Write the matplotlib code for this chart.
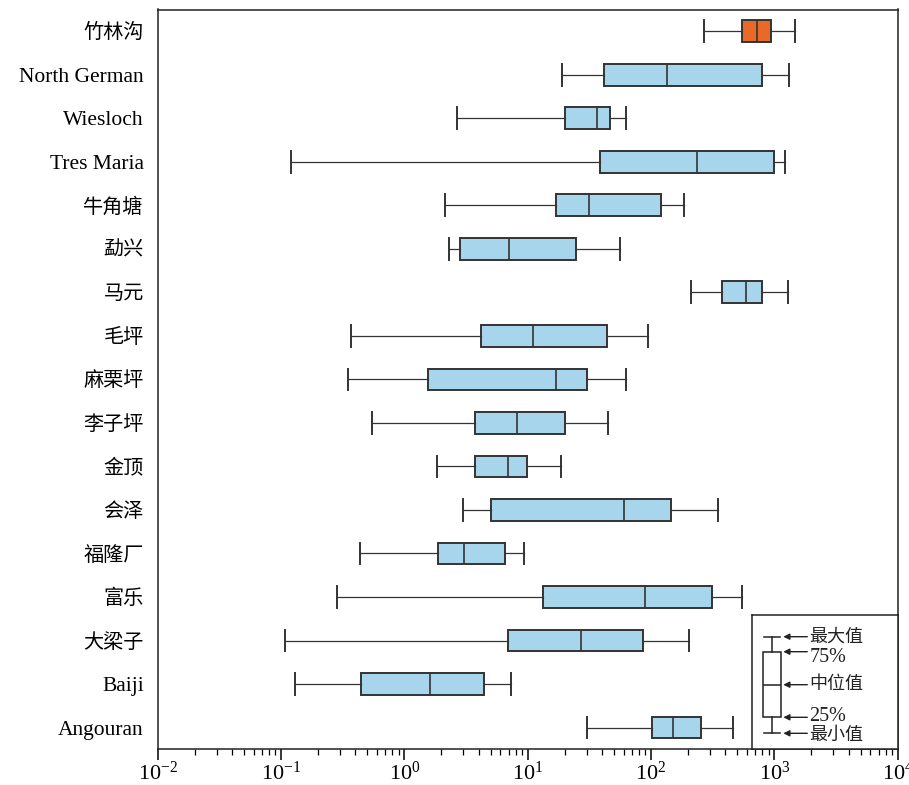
import numpy as np
import matplotlib
matplotlib.use('Agg')
import matplotlib.pyplot as plt

## FONTS: TIMES-LIKE SERIF FOR LATIN, CJK SANS AS FALLBACK
plt.rcParams['font.family'] = ['Liberation Serif', 'Noto Sans CJK SC']
plt.rcParams['mathtext.fontset'] = 'custom'
plt.rcParams['mathtext.rm'] = 'Liberation Serif'
plt.rcParams['mathtext.it'] = 'Liberation Serif:italic'
plt.rcParams['mathtext.bf'] = 'Liberation Serif:bold'

## DATA, TOP TO BOTTOM
names = ['竹林沟', 'North German', 'Wiesloch', 'Tres Maria', '牛角塘', '勐兴',
         '马元', '毛坪', '麻栗坪', '李子坪', '金顶', '会泽', '福隆厂', '富乐',
         '大梁子', 'Baiji', 'Angouran']
mins    = [270, 19.0, 2.69, 0.121, 2.15, 2.28, 211, 0.370, 0.352, 0.543,
           1.83, 3.00, 0.433, 0.283, 0.107, 0.131, 30.3]
q1s     = [548, 41.9, 20.0, 38.6, 16.9, 2.82, 376, 4.15, 1.55, 3.71,
           3.76, 5.00, 1.88, 13.3, 6.95, 0.441, 102]
medians = [721, 134, 36.5, 236, 31.6, 7.03, 594, 11.1, 16.9, 8.22,
           6.95, 60.0, 3.02, 89.9, 26.8, 1.61, 150]
q3s     = [937, 787, 46.8, 991, 120.5, 24.8, 796, 44.3, 30.1, 20.2,
           9.84, 146, 6.49, 313, 86.1, 4.44, 254]
maxs    = [1466, 1318, 63.1, 1230, 186, 56.4, 1294, 95.1, 63.1, 44.5,
           18.7, 351, 9.25, 548, 203, 7.30, 458]

blue = '#A6D5EC'
orange = '#E96A26'
edge = '#333333'

stats = []
for i in range(len(names)):
    stats.append({'whislo': mins[i], 'q1': q1s[i], 'med': medians[i],
                  'q3': q3s[i], 'whishi': maxs[i], 'fliers': []})

fig = plt.figure(figsize=(9.09, 7.85), dpi=100)
ax = fig.add_axes([157.7 / 909, (785 - 749.3) / 785, 740 / 909, 739.8 / 785])

positions = np.arange(len(names))
bp = ax.bxp(stats, positions=positions, widths=0.5, capwidths=0.5,
            orientation='horizontal', patch_artist=True, showfliers=False,
            boxprops=dict(edgecolor=edge, linewidth=1.4),
            medianprops=dict(color=edge, linewidth=1.2),
            whiskerprops=dict(color=edge, linewidth=0.9),
            capprops=dict(color=edge, linewidth=1.4))
for i, box in enumerate(bp['boxes']):
    box.set_facecolor(orange if i == 0 else blue)

ax.set_xscale('log')
ax.set_xlim(1e-2, 1e4)
ax.set_ylim(len(names) - 0.5, -0.5)
ax.set_yticks(positions, labels=names)
ax.tick_params(axis='y', length=0, pad=10, labelsize=15.5)
ax.tick_params(axis='x', which='major', direction='out', length=8, width=1.1,
               labelsize=16, pad=1)
ax.tick_params(axis='x', which='minor', direction='out', length=4, width=0.9)
for lab in ax.get_yticklabels():
    if not lab.get_text().isascii():
        lab.set_fontsize(14.5)
for sp in ax.spines.values():
    sp.set_linewidth(1.1)
    sp.set_color('#222222')

## LEGEND BOX IN THE LOWER RIGHT CORNER (PIXEL-LIKE UNITS)
lax = fig.add_axes([752.3 / 909, (785 - 749.3) / 785, 145.4 / 909, 133.8 / 785])
for sp in lax.spines.values():
    sp.set_linewidth(1.1)
    sp.set_color('#222222')

leg_levels = [16, 32, 64.6, 97.6, 112.6]
leg_stats = [{'whislo': leg_levels[0], 'q1': leg_levels[1], 'med': leg_levels[2],
              'q3': leg_levels[3], 'whishi': leg_levels[4], 'fliers': []}]
lax.bxp(leg_stats, positions=[19.7], widths=18.6, capwidths=16,
        showfliers=False, patch_artist=True,
        boxprops=dict(facecolor='white', edgecolor='#222222', linewidth=1.1),
        medianprops=dict(color='#222222', linewidth=1.1),
        whiskerprops=dict(color='#222222', linewidth=1.1),
        capprops=dict(color='#222222', linewidth=1.1))
lax.set_xlim(0, 145.4)
lax.set_ylim(0, 133.8)
lax.set_xticks([])
lax.set_yticks([])

leg_labels = ['最小值', '25%', '中位值', '75%', '最大值']
leg_text_y = [14, 33, 64.6, 92.3, 112.6]
for lvl, ty, txt in zip(leg_levels, leg_text_y, leg_labels):
    lax.annotate('', xy=(31, lvl), xytext=(55, lvl),
                 arrowprops=dict(arrowstyle='-|>', color='#222222', lw=1.0,
                                 mutation_scale=9, shrinkA=0, shrinkB=0))
    fs = 14.5 if txt.isascii() else 13
    lax.text(57, ty, txt, fontsize=fs, va='center', ha='left', color='#222222')

fig.savefig('out.png', dpi=100)
